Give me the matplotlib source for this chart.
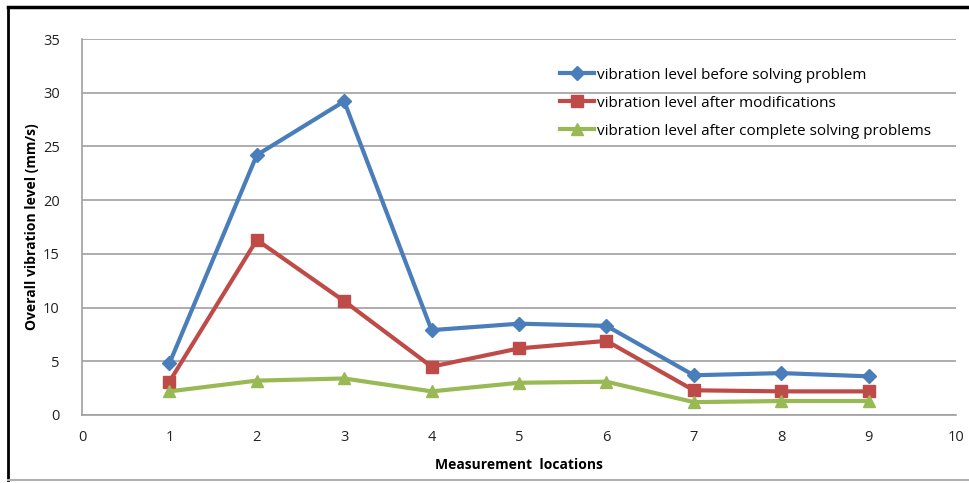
import numpy as np
import matplotlib
matplotlib.use("Agg")
import matplotlib.pyplot as plt
from matplotlib.lines import Line2D

locations = [1, 2, 3, 4, 5, 6, 7, 8, 9]
before = [4.8, 24.2, 29.2, 7.9, 8.5, 8.3, 3.7, 3.9, 3.6]
after_mod = [3.1, 16.3, 10.6, 4.5, 6.2, 6.9, 2.3, 2.2, 2.2]
after_complete = [2.2, 3.2, 3.4, 2.2, 3.0, 3.1, 1.2, 1.3, 1.3]
labels = ["vibration level before solving problem",
          "vibration level after modifications",
          "vibration level after complete solving problems"]

plt.rcParams['font.family'] = ['Open Sans', 'DejaVu Sans']

fig = plt.figure(figsize=(9.69, 4.83), dpi=100)
ax = fig.add_axes([82/969, 1-415/483, (956-82)/969, (415-39)/483])

ax.plot(locations, before, color='#4a7ebb', lw=3, marker='D', ms=7, label=labels[0])
ax.plot(locations, after_mod, color='#be4b48', lw=3, marker='s', ms=9, label=labels[1])
ax.plot(locations, after_complete, color='#98b954', lw=3, marker='^', ms=9, label=labels[2])

ax.set_xlim(0, 10)
ax.set_ylim(0, 35)
ax.set_xticks(range(0, 11))
ax.set_yticks(range(0, 36, 5))
ax.grid(axis='y', color='#a0a0a0', lw=1.2)
ax.set_axisbelow(True)
for s in ['top', 'right']:
    ax.spines[s].set_visible(False)
for s in ['left', 'bottom']:
    ax.spines[s].set_color('#a0a0a0')
    ax.spines[s].set_linewidth(1.2)
ax.tick_params(length=0, labelsize=10.5, colors='#222222', pad=11)
ax.tick_params(axis='y', pad=16)

ax.set_xlabel('Measurement  locations', fontsize=10, fontweight='bold', labelpad=9)
ax.set_ylabel('Overall vibration level (mm/s)', fontsize=10, fontweight='bold', labelpad=3)

ax.legend(loc='upper left', bbox_to_anchor=(0.54, 0.94), frameon=False, fontsize=11,
          handlelength=2.2, handletextpad=0.2, labelspacing=0.85, borderaxespad=0)

# outer frame
fig.add_artist(Line2D([8/969, 1], [1-7/483, 1-7/483], color='black', lw=2.5, transform=fig.transFigure))
fig.add_artist(Line2D([8/969, 8/969], [1-7/483, 1-480/483], color='black', lw=2, transform=fig.transFigure))
fig.add_artist(Line2D([8/969, 1], [1-480/483, 1-480/483], color='#b0b0b0', lw=1.5, transform=fig.transFigure))

fig.savefig('out.png', dpi=100)
